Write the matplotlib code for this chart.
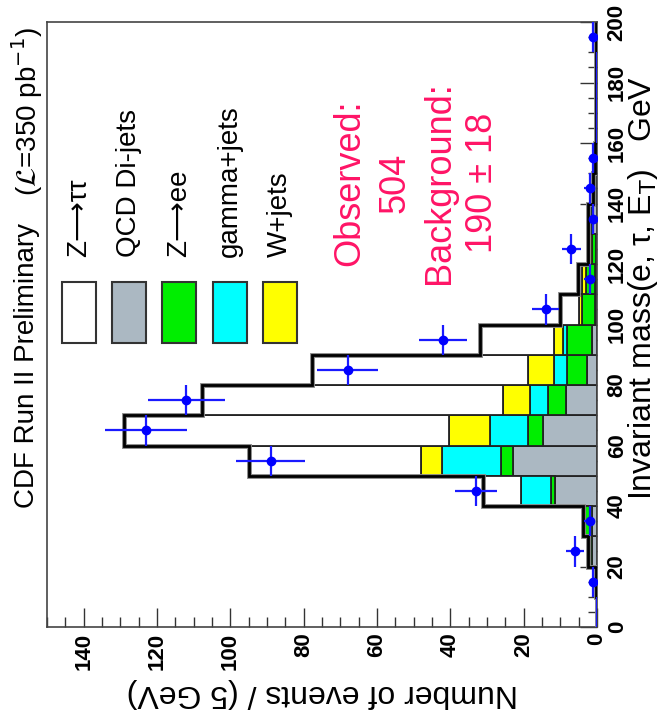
import numpy as np
import matplotlib
matplotlib.use("Agg")
import matplotlib.pyplot as plt
from matplotlib.patches import Rectangle
from matplotlib.ticker import MultipleLocator

plt.rcParams['font.family'] = ['Liberation Sans', 'DejaVu Sans']
plt.rcParams['mathtext.fontset'] = 'dejavusans'

# Data (10 GeV bins, 0-200 GeV), stacked background components + signal
mass_edges = np.arange(0, 201, 10)
qcd_dijets = [0, 0.2, 1.5, 1.5, 11.5, 23.0, 14.6, 8.4, 2.7, 1.4,
              0.5, 0.5, 0.3, 1.5, 0.3, 0.1, 0.1, 0.1, 0.1, 0.1]
z_ee = [0, 0.1, 0.5, 1.8, 1.0, 3.2, 4.1, 4.9, 5.6, 6.9,
        3.5, 2.5, 1.1, 0.5, 0.5, 0.3, 0.1, 0.1, 0.1, 0.1]
gamma_jets = [0, 0, 0, 0, 8.2, 16.1, 10.6, 5.1, 3.4, 1.0,
              0.2, 0, 0, 0, 0, 0, 0, 0, 0, 0]
w_jets = [0, 0, 0, 0, 0, 5.7, 11.2, 7.3, 7.1, 2.4,
          0.6, 1.0, 1.1, 0, 0.1, 0, 0, 0, 0, 0]
z_tautau = [0, 0, 0.5, 0.6, 10.3, 47.0, 88.5, 81.9, 59.0, 20.3,
            5.2, 1.2, 0, 0.5, 0.2, 0.1, 0.1, 0.1, 0.1, 0.1]
observed = [0, 1, 6, 2, 33, 89, 123, 112, 68, 42,
            14, 2, 7, 1, 2, 1, 0, 0, 0, 1]

labels = ['Z⟶ττ', 'QCD Di-jets', 'Z⟶ee', 'gamma+jets', 'W+jets']
colors = ['white', '#abb8c2', '#00ee00', '#00ffff', '#ffff00']

W, H = 662, 727


def fxy(x, y):
    # pixel position (from top-left) -> figure fraction
    return x / W, 1 - y / H


fig = plt.figure(figsize=(W / 100, H / 100), dpi=100)
ax = fig.add_axes([47 / W, 100 / H, 550 / W, 605 / H])

# stacked histogram drawn sideways (mass on vertical axis)
stack = [qcd_dijets, z_ee, gamma_jets, w_jets, z_tautau]
stack_colors = [colors[1], colors[2], colors[3], colors[4], colors[0]]
left = np.zeros(len(qcd_dijets))
for vals, col in zip(stack, stack_colors):
    vals = np.array(vals, dtype=float)
    ax.barh(mass_edges[:-1], vals, left=left, height=10, align='edge',
            color=col, edgecolor='#222222', linewidth=1.3, zorder=2)
    left = left + vals
ax.stairs(left, mass_edges, orientation='horizontal', color='#888888',
          linewidth=3.5, baseline=None, zorder=3)
ax.stairs(left, mass_edges, orientation='horizontal', color='black',
          linewidth=2.0, baseline=None, zorder=3)

# data points
centers = (mass_edges[:-1] + mass_edges[1:]) / 2
obs = np.array(observed, dtype=float)
ax.errorbar(obs, centers, xerr=np.sqrt(obs), yerr=5, fmt='none',
            ecolor='#1a1aff', elinewidth=1.6, capsize=0, zorder=4)
nz = obs > 0
ax.plot(obs[nz], centers[nz], 'o', color='#0000ff', ms=6, zorder=5)

ax.set_xlim(150, 0)
ax.set_ylim(0, 200)

ax.xaxis.set_major_locator(MultipleLocator(20))
ax.xaxis.set_minor_locator(MultipleLocator(5))
ax.yaxis.set_major_locator(MultipleLocator(20))
ax.yaxis.set_minor_locator(MultipleLocator(5))
ax.tick_params(axis='x', which='both', direction='in', bottom=True, top=False,
               labelsize=16, pad=4, color='#333333')
ax.tick_params(axis='y', which='both', direction='in', left=False, right=True,
               labelleft=False, labelright=True, labelsize=16, pad=7,
               color='#333333')
ax.tick_params(axis='x', which='major', length=13.5, width=1)
ax.tick_params(axis='x', which='minor', length=7, width=1)
ax.tick_params(axis='y', which='major', length=12, width=1)
ax.tick_params(axis='y', which='minor', length=6.5, width=1)
for lbl in ax.get_xticklabels():
    lbl.set_rotation(90)
    lbl.set_fontweight('bold')
    lbl.set_va('top')
    lbl.set_ha('center')
for lbl in ax.get_yticklabels():
    lbl.set_rotation(90)
    lbl.set_fontweight('bold')
    lbl.set_va('center')
for sp in ax.spines.values():
    sp.set_color('#444444')
    sp.set_linewidth(1.2)

# axis titles
fig.text(*fxy(322, 693), 'Number of events / (5 GeV)', rotation=180,
         ha='center', va='center', fontsize=23)
fig.text(*fxy(643, 288), r'Invariant mass(e, τ, E$_\mathrm{T}$)   GeV',
         rotation=90, ha='center', va='center', fontsize=23)

# header
fig.text(*fxy(27, 365), 'CDF Run II Preliminary', rotation=90,
         ha='center', va='center', fontsize=20)
fig.text(*fxy(27, 112), r'($\mathcal{L}$=350 pb$^{-1}$)', rotation=90,
         ha='center', va='center', fontsize=20)

# legend
for i, (lab, col) in enumerate(zip(labels, colors)):
    x0 = 62 + 50.2 * i
    bx, by = fxy(x0, 343)
    rect = Rectangle((bx, by), 34 / W, 61 / H, transform=fig.transFigure,
                     facecolor=col, edgecolor='#333333', linewidth=1.5)
    fig.patches.append(rect)
    tx, ty = fxy(x0 + 17, 257)
    fig.text(tx, ty, lab, rotation=90, rotation_mode='anchor',
             ha='left', va='center', fontsize=20)

# summary numbers
pink = '#ff1466'
for txt, x in [('Observed:', 350), ('504', 395),
               ('Background:', 440), ('190 ± 18', 483)]:
    fig.text(*fxy(x, 183), txt, rotation=90, ha='center', va='center',
             fontsize=26, color=pink)

fig.savefig('out.png', dpi=100)
